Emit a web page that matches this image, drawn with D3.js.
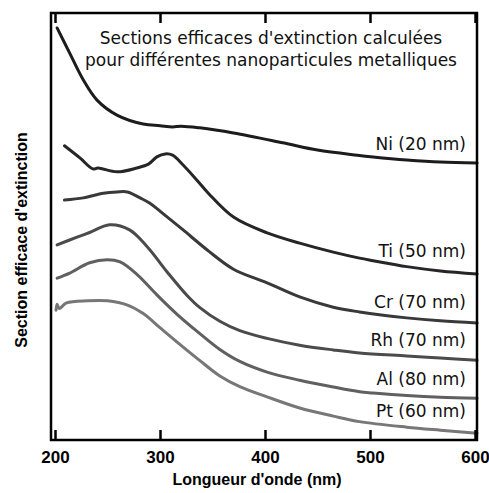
<!DOCTYPE html>
<html>
<head>
<meta charset="utf-8">
<script src="https://cdn.jsdelivr.net/npm/d3@7"></script>
<style>
  body { margin: 0; background: #fff; }
  svg { display: block; }
</style>
</head>
<body>
<svg id="chart" width="489" height="493"></svg>
<script>
// wavelength (nm) / cross-section (arbitrary units, 0-100)
const niNm  = [202, 214, 227, 240, 259, 284, 300, 312, 320, 338, 370, 417, 450, 488, 503, 535, 567, 602];
const niVal = [96.5, 90.6, 84.3, 79.6, 76.1, 74.0, 73.6, 73.3, 73.5, 73.1, 71.9, 69.6, 67.9, 66.7, 66.3, 65.6, 65.1, 64.9];

const tiNm  = [209, 224, 236, 241, 259, 278, 289, 297, 305, 312, 322, 335, 346, 370, 402, 433, 465, 490, 503, 535, 567, 602];
const tiVal = [68.9, 66.0, 63.5, 63.7, 62.8, 63.7, 64.6, 66.3, 67.0, 66.7, 64.4, 60.9, 57.8, 52.2, 48.5, 46.1, 44.0, 42.6, 42.0, 40.6, 39.6, 38.9];

const crNm  = [209, 227, 246, 259, 269, 281, 290, 307, 322, 345, 370, 402, 433, 465, 490, 535, 567, 602];
const crVal = [56.2, 56.7, 57.8, 58.1, 58.1, 56.7, 55.5, 52.2, 49.2, 44.5, 40.0, 36.8, 33.5, 31.1, 30.0, 28.6, 27.9, 27.4];

const rhNm  = [202, 221, 233, 252, 271, 288, 307, 326, 338, 357, 376, 402, 433, 465, 490, 535, 567, 602];
const rhVal = [45.7, 47.5, 48.6, 50.4, 49.2, 45.2, 39.3, 33.8, 31.0, 27.8, 25.6, 23.8, 22.2, 21.1, 20.4, 19.7, 19.2, 18.7];

const alNm  = [202, 214, 233, 250, 262, 278, 297, 316, 338, 357, 376, 402, 433, 465, 490, 503, 535, 567, 602];
const alVal = [37.9, 39.1, 41.5, 42.2, 41.7, 38.8, 34.0, 29.5, 24.9, 21.2, 18.4, 15.9, 14.0, 12.4, 11.3, 11.0, 10.4, 10.0, 9.8];

const ptNm  = [201, 202, 204, 211, 231, 250, 269, 284, 300, 316, 338, 357, 376, 402, 433, 465, 490, 535, 567, 602];
const ptVal = [30.4, 31.8, 30.8, 32.1, 32.6, 32.6, 31.6, 29.6, 26.3, 23.0, 18.6, 15.0, 12.5, 10.1, 7.5, 5.6, 4.3, 3.0, 2.3, 1.6];

const labels = ["Ni (20 nm)", "Ti (50 nm)", "Cr (70 nm)", "Rh (70 nm)", "Al (80 nm)", "Pt (60 nm)"];
const xTicks = [200, 300, 400, 500, 600];
const titleLines = ["Sections efficaces d'extinction calculées", "pour différentes nanoparticules metalliques"];

const series = [
  { name: labels[0], nm: niNm, val: niVal, color: "#1c1c1c" },
  { name: labels[1], nm: tiNm, val: tiVal, color: "#262626" },
  { name: labels[2], nm: crNm, val: crVal, color: "#393939" },
  { name: labels[3], nm: rhNm, val: rhVal, color: "#4b4b4b" },
  { name: labels[4], nm: alNm, val: alVal, color: "#606060" },
  { name: labels[5], nm: ptNm, val: ptVal, color: "#777777" }
];

const svg = d3.select("#chart");

const x = d3.scaleLinear().domain([200, 600]).range([55, 475]);
const y = d3.scaleLinear().domain([0, 100]).range([440, 13]);

const frameL = x(196.2), frameR = x(601.9), frameT = y(100), frameB = y(0);

// curves
const line = d3.line()
  .x(d => x(d[0]))
  .y(d => y(d[1]))
  .curve(d3.curveCatmullRom.alpha(0.5));

series.forEach(s => {
  const pts = s.nm.map((n, i) => [n, s.val[i]]);
  svg.append("path")
    .datum(pts)
    .attr("d", line)
    .attr("fill", "none")
    .attr("stroke", s.color)
    .attr("stroke-width", 3)
    .attr("stroke-linejoin", "round")
    .attr("stroke-linecap", "round");

  // label sits just above the curve near 547 nm
  const at = 547;
  const i = d3.bisectLeft(s.nm, at);
  const t = (at - s.nm[i - 1]) / (s.nm[i] - s.nm[i - 1]);
  const v = s.val[i - 1] + t * (s.val[i] - s.val[i - 1]);
  svg.append("text")
    .attr("x", 466)
    .attr("y", y(v) - 11)
    .attr("text-anchor", "end")
    .attr("font-family", "DejaVu Sans, sans-serif")
    .attr("font-size", 17)
    .attr("fill", "#111")
    .text(s.name);
});

// axes: inward ticks on top and bottom
const xAxis = svg.append("g")
  .attr("transform", `translate(0,${frameB})`)
  .call(d3.axisBottom(x).tickValues(xTicks).tickSizeInner(-10).tickSizeOuter(0).tickPadding(11));
xAxis.select(".domain").remove();
xAxis.selectAll("line").attr("stroke", "#000").attr("stroke-width", 2.5);
xAxis.selectAll("text")
  .attr("font-family", "Liberation Sans, Arial, sans-serif")
  .attr("font-weight", "bold")
  .attr("font-size", 17)
  .attr("fill", "#000");

const xTop = svg.append("g")
  .attr("transform", `translate(0,${frameT})`)
  .call(d3.axisTop(x).tickValues(xTicks).tickSizeInner(-10).tickSizeOuter(0).tickFormat(""));
xTop.select(".domain").remove();
xTop.selectAll("line").attr("stroke", "#000").attr("stroke-width", 2.5);

// frame
svg.append("rect")
  .attr("x", frameL)
  .attr("y", frameT)
  .attr("width", frameR - frameL)
  .attr("height", frameB - frameT)
  .attr("fill", "none")
  .attr("stroke", "#000")
  .attr("stroke-width", 2.5);

// title
svg.append("text")
  .attr("x", 271)
  .attr("y", 44)
  .attr("text-anchor", "middle")
  .attr("font-family", "DejaVu Sans, sans-serif")
  .attr("font-size", 17)
  .attr("fill", "#111")
  .selectAll("tspan")
  .data(titleLines)
  .join("tspan")
    .attr("x", 271)
    .attr("dy", (d, i) => i === 0 ? 0 : 22)
    .text(d => d);

// axis titles
svg.append("text")
  .attr("x", 257)
  .attr("y", 485)
  .attr("text-anchor", "middle")
  .attr("font-family", "Liberation Sans, Arial, sans-serif")
  .attr("font-weight", "bold")
  .attr("font-size", 16)
  .text("Longueur d'onde (nm)");

svg.append("text")
  .attr("transform", "translate(27,240) rotate(-90)")
  .attr("text-anchor", "middle")
  .attr("font-family", "Liberation Sans, Arial, sans-serif")
  .attr("font-weight", "bold")
  .attr("font-size", 16)
  .text("Section efficace d'extinction");
</script>
</body>
</html>
